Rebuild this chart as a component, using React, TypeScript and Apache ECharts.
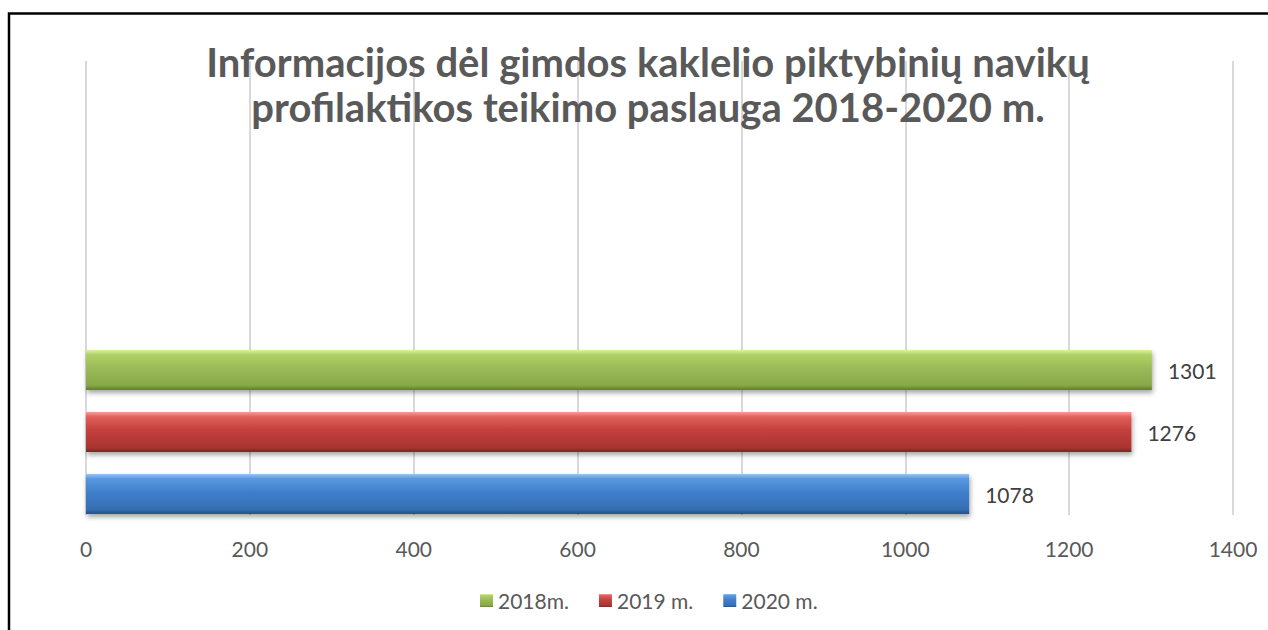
import React, { useEffect, useRef } from "react";
import * as echarts from "echarts";

const titleLines = [
  "Informacijos dėl gimdos kaklelio piktybinių navikų",
  "profilaktikos teikimo paslauga 2018-2020 m.",
];
const category = ["Paslauga"];
const seriesNames = ["2018m.", "2019 m.", "2020 m."];
const seriesValues = [1301, 1276, 1078];
const xTicks = { min: 0, max: 1400, interval: 200 };
const palettes = [
  ["#dcf29a", "#b0d166", "#9bbb59", "#88a84a", "#5f7d2e"],
  ["#ff9c99", "#e0605d", "#c4403d", "#a93532", "#7d2624"],
  ["#93c6f7", "#5a98e0", "#3f7fcb", "#356fb4", "#24508a"],
];

const FONT = "Lato, 'Open Sans', sans-serif";

function grad(p: string[]) {
  return new echarts.graphic.LinearGradient(0, 0, 0, 1, [
    { offset: 0, color: p[0] },
    { offset: 0.12, color: p[1] },
    { offset: 0.45, color: p[2] },
    { offset: 0.88, color: p[3] },
    { offset: 1, color: p[4] },
  ]);
}

export default function App() {
  const ref = useRef<HTMLDivElement>(null);
  useEffect(() => {
    if (!ref.current) return;
    const chart = echarts.init(ref.current, undefined, { renderer: "svg" });
    const series: any[] = seriesNames.map((name, i) => ({
      name,
      type: "bar",
      xAxisIndex: 1,
      yAxisIndex: 1,
      data: [seriesValues[i]],
      barWidth: 40,
      barGap: "55%",
      itemStyle: {
        color: grad(palettes[i]),
        shadowColor: "rgba(0,0,0,0.35)",
        shadowBlur: 5,
        shadowOffsetY: 3,
        shadowOffsetX: 1,
      },
      label: {
        show: true,
        position: "right",
        distance: 16,
        color: "#404040",
        fontFamily: FONT,
        fontSize: 21,
      },
    }));
    chart.setOption({
      animation: false,
      backgroundColor: "#fff",
      title: {
        text: titleLines.join("\n"),
        left: 643,
        textAlign: "center",
        top: 34,
        textStyle: {
          fontFamily: FONT,
          fontWeight: "bold",
          fontSize: 40,
          lineHeight: 45,
          color: "#595959",
        },
      },
      legend: {
        data: seriesNames,
        left: 475,
        top: 585,
        itemWidth: 13,
        itemHeight: 13,
        itemGap: 30,
        icon: "rect",
        textStyle: { fontFamily: FONT, fontSize: 21, color: "#595959" },
      },
      grid: [
        { left: 86, right: 35, top: 61, height: 454 },
        { left: 86, right: 35, top: 349, height: 166 },
      ],
      xAxis: [
        {
          gridIndex: 0,
          type: "value",
          min: xTicks.min,
          max: xTicks.max,
          interval: xTicks.interval,
          axisLine: { show: false },
          axisTick: { show: false },
          splitLine: { show: true, lineStyle: { color: "#d9d9d9", width: 2 } },
          axisLabel: {
            color: "#595959",
            fontFamily: FONT,
            fontSize: 21,
            margin: 23,
            formatter: (v: number) => String(v),
          },
        },
        {
          gridIndex: 1,
          type: "value",
          min: xTicks.min,
          max: xTicks.max,
          interval: xTicks.interval,
          show: false,
        },
      ],
      yAxis: [
        { gridIndex: 0, type: "value", show: false },
        {
          gridIndex: 1,
          type: "category",
          data: category,
          axisLine: { show: false },
          axisTick: { show: false },
          axisLabel: { show: false },
        },
      ],
      series,
      graphic: [
        {
          type: "rect",
          shape: { x: 9, y: 13.5, width: 1400, height: 800 },
          style: { fill: "none", stroke: "#000", lineWidth: 2.5 },
          silent: true,
          z: 100,
        },
      ],
    });
    return () => chart.dispose();
  }, []);
  return (
    <div
      ref={ref}
      style={{ position: "absolute", left: 0, top: 0, width: 1268, height: 630 }}
    />
  );
}
